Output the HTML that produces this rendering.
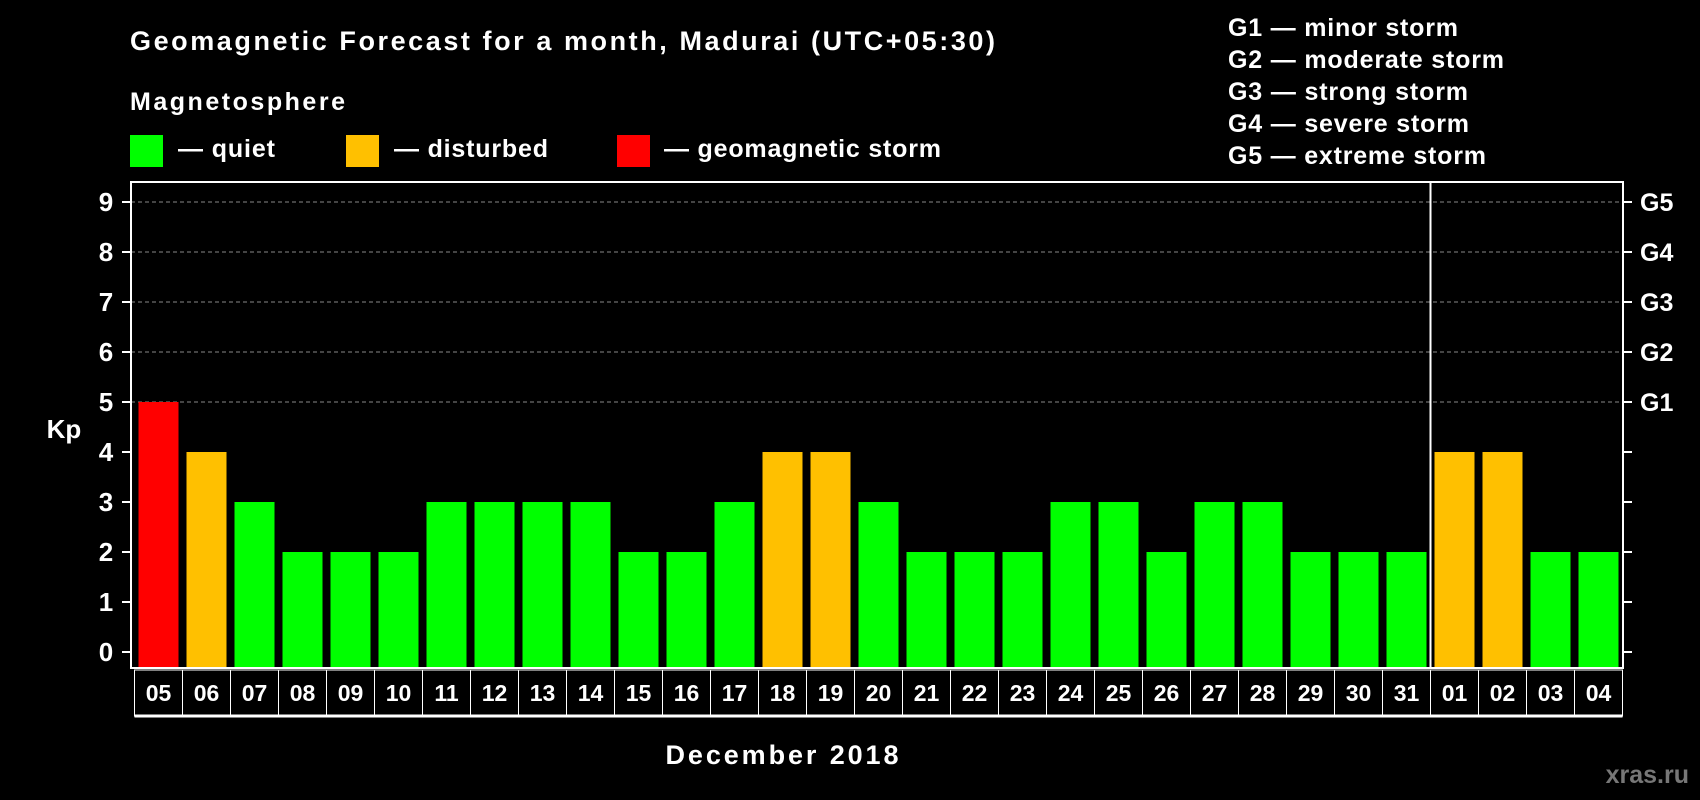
<!DOCTYPE html>
<html><head><meta charset="utf-8"><style>
html,body{margin:0;padding:0;background:#000;}
svg{display:block;font-family:"Liberation Sans",Arial,sans-serif;font-weight:bold;}
</style></head><body>
<svg id="chart" width="1700" height="800" viewBox="0 0 1700 800">
<rect x="0" y="0" width="1700" height="800" fill="#000"/>
<text x="130" y="50" font-size="27" fill="#fff" textLength="865">Geomagnetic Forecast for a month, Madurai (UTC+05:30)</text>
<text x="130" y="110" font-size="25" fill="#fff" textLength="215">Magnetosphere</text>
<g>
<rect x="130" y="135" width="33" height="32" fill="#00ff00"/>
<text x="178" y="157" font-size="25" fill="#fff" textLength="97">— quiet</text></g>
<g>
<rect x="346" y="135" width="33" height="32" fill="#ffc000"/>
<text x="394" y="157" font-size="25" fill="#fff" textLength="154">— disturbed</text></g>
<g>
<rect x="617" y="135" width="33" height="32" fill="#ff0000"/>
<text x="664" y="157" font-size="25" fill="#fff" textLength="277">— geomagnetic storm</text></g>
<g>
<text x="1228" y="36" font-size="25" fill="#fff" textLength="230">G1 — minor storm</text>
<text x="1228" y="68" font-size="25" fill="#fff" textLength="276">G2 — moderate storm</text>
<text x="1228" y="100" font-size="25" fill="#fff" textLength="240">G3 — strong storm</text>
<text x="1228" y="132" font-size="25" fill="#fff" textLength="241">G4 — severe storm</text>
<text x="1228" y="164" font-size="25" fill="#fff" textLength="258">G5 — extreme storm</text>
</g>
<g id="grid"></g>
<g id="bars"></g>
<g id="axes"></g>
<rect x="131" y="182" width="1492" height="486" fill="none" stroke="#fff" stroke-width="2"/>
<text x="64" y="438" font-size="26" fill="#fff" text-anchor="middle">Kp</text>
<text x="782" y="764" font-size="27" fill="#fff" text-anchor="middle" textLength="233">December 2018</text>
<text x="1689" y="783" font-size="25" fill="#777" text-anchor="end">xras.ru</text>
</svg>
<script>
const days = ["05","06","07","08","09","10","11","12","13","14","15","16","17","18","19","20","21","22","23","24","25","26","27","28","29","30","31","01","02","03","04"];
const kpValues = [5,4,3,2,2,2,3,3,3,3,2,2,3,4,4,3,2,2,2,3,3,2,3,3,2,2,2,4,4,2,2];
const yTicks = [0,1,2,3,4,5,6,7,8,9];
const stormLabels = ["G1","G2","G3","G4","G5"];
const stormLevels = [5,6,7,8,9];
const monthBreakIndex = 27;

const NS = "http://www.w3.org/2000/svg";
const X0 = 134.5, COLW = 48, PLOT_BOTTOM = 668;
function yScale(v){ return 652 - v * 50; }
function xScale(i){ return X0 + i * COLW; }
function mk(tag, attrs, parent){ const e=document.createElementNS(NS,tag); for(const k in attrs) e.setAttribute(k,attrs[k]); parent.appendChild(e); return e; }
function colorFor(v){ return v>=5 ? "#ff0000" : (v>=4 ? "#ffc000" : "#00ff00"); }

const grid=document.getElementById("grid"), bars=document.getElementById("bars"), axes=document.getElementById("axes");

stormLevels.forEach((lv,i)=>{
  const l=mk("line",{x1:131,x2:1623,y1:yScale(lv),y2:yScale(lv),stroke:"#888","stroke-width":1,"stroke-dasharray":"4,3"},grid);
  
  
  const t=mk("text",{x:1640,y:yScale(lv)+9,"font-size":25,fill:"#fff"},axes);
  t.textContent=stormLabels[i];
  
  
});

yTicks.forEach(v=>{
  const y=yScale(v);
  const t=mk("text",{x:106,y:y+9,"font-size":26,fill:"#fff","text-anchor":"middle"},axes);
  t.textContent=v;
  
  
  const a=mk("line",{x1:122,x2:131,y1:y,y2:y,stroke:"#fff","stroke-width":2},axes);
  
  
  const b=mk("line",{x1:1623,x2:1632,y1:y,y2:y,stroke:"#fff","stroke-width":2},axes);
  
  
});

kpValues.forEach((v,i)=>{
  const y=yScale(v);
  const r=mk("rect",{x:xScale(i)+4,y:y,width:COLW-8,height:PLOT_BOTTOM-y,fill:colorFor(v)},bars);
  
  
});

const sep=mk("line",{x1:xScale(monthBreakIndex),x2:xScale(monthBreakIndex),y1:182,y2:668,stroke:"#fff","stroke-width":2},axes);



const row=mk("g",{},axes);


days.forEach((d,i)=>{
  const c=mk("rect",{x:xScale(i),y:670,width:COLW,height:46,fill:"none",stroke:"#fff","stroke-width":1},row);
  
  
  const t=mk("text",{x:xScale(i)+COLW/2,y:701,"font-size":23,fill:"#fff","text-anchor":"middle"},row);
  t.textContent=d;
  
  
});
const bl=mk("line",{x1:xScale(0),x2:xScale(days.length),y1:716,y2:716,stroke:"#fff","stroke-width":3},row);


</script>
</body></html>
